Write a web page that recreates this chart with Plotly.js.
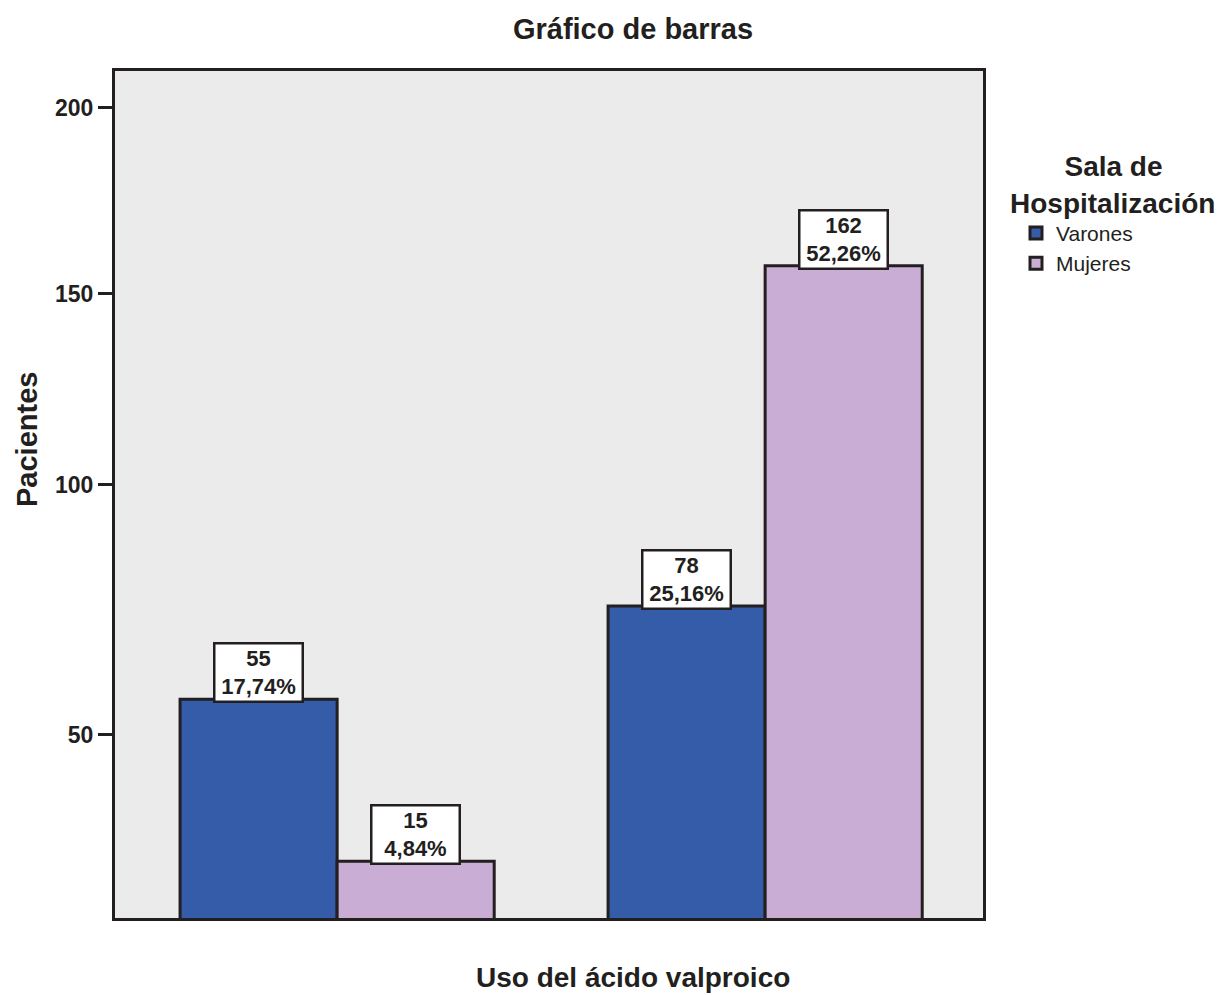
<!DOCTYPE html>
<html>
<head>
<meta charset="utf-8">
<script src="https://cdn.plot.ly/plotly-3.0.1.min.js"></script>
<style>html,body{margin:0;padding:0;background:#fff;}#chart{width:1226px;height:995px;}</style>
</head>
<body>
<div id="chart"></div>
<script>
// ---- data ----
const categories = ["Grupo 1", "Grupo 2"];
const seriesNames = ["Varones", "Mujeres"];
const varones = [55, 78];
const mujeres = [15, 162];
const varonesPct = ["17,74%", "25,16%"];
const mujeresPct = ["4,84%", "52,26%"];
const tickLabels = ["50", "100", "150", "200"];
// tick label positions as they appear on the reference axis
const tickPositions = [46.2, 107.9, 155.1, 201.1];

const W = 1226, H = 995;
const M = {l: 115, r: 243, t: 71, b: 77, autoexpand: false};
const plotW = W - M.l - M.r, plotH = H - M.t - M.b;

const bargap = 0.266;
const barOffset = (1 - bargap) / 4;

const lineCol = "#231F20";
const boldFont = "Liberation Sans, Arial, sans-serif";

const traces = [
  {type: "bar", name: seriesNames[0], x: categories, y: varones,
   marker: {color: "#345CA9", line: {color: lineCol, width: 3}}, hoverinfo: "none"},
  {type: "bar", name: seriesNames[1], x: categories, y: mujeres,
   marker: {color: "#C9ADD4", line: {color: lineCol, width: 3}}, hoverinfo: "none"}
];

const annotations = [];
function addLabel(i, val, pct, side) {
  annotations.push({
    x: i + side * barOffset, y: val, xref: "x", yref: "y",
    text: "<b>" + val + "<br>" + pct + "</b>",
    showarrow: false, yanchor: "bottom", xanchor: "center", yshift: -4,
    width: 84, height: 54, align: "center", valign: "middle",
    bgcolor: "#FFFFFF", bordercolor: lineCol, borderwidth: 2.5, borderpad: 1,
    font: {family: boldFont, size: 22, color: lineCol}
  });
}
categories.forEach((c, i) => {
  addLabel(i, varones[i], varonesPct[i], -1);
  addLabel(i, mujeres[i], mujeresPct[i], 1);
});
// axis titles
annotations.push({
  text: "<b>Uso del ácido valproico</b>", showarrow: false,
  xref: "paper", yref: "paper",
  x: (633 - M.l) / plotW, y: -(978 - (M.t + plotH)) / plotH,
  xanchor: "center", yanchor: "middle",
  font: {family: boldFont, size: 28, color: lineCol}
});
annotations.push({
  text: "<b>Pacientes</b>", showarrow: false, textangle: -90,
  xref: "paper", yref: "paper",
  x: (27 - M.l) / plotW, y: 1 - (440 - M.t) / plotH,
  xanchor: "center", yanchor: "middle",
  font: {family: boldFont, size: 29, color: lineCol}
});

const nb = "\u00A0";
const layout = {
  width: W, height: H,
  margin: M,
  paper_bgcolor: "#FFFFFF",
  plot_bgcolor: "#EBEBEB",
  barmode: "group",
  bargap: bargap,
  bargroupgap: 0,
  title: {
    text: "<b>Gráfico de barras</b>",
    xref: "container", yref: "container",
    x: 633 / W, y: 1 - 29 / H, xanchor: "center", yanchor: "middle",
    font: {family: boldFont, size: 29, color: lineCol}
  },
  xaxis: {
    range: [-0.519, 1.509],
    showticklabels: false, ticks: "",
    showgrid: false, zeroline: false,
    showline: true, linecolor: lineCol, linewidth: 3, mirror: true,
    fixedrange: true
  },
  yaxis: {
    range: [1.0, 210.1],
    tickmode: "array", tickvals: tickPositions, ticktext: tickLabels,
    ticks: "outside", ticklen: 14, tickwidth: 3, tickcolor: lineCol,
    tickfont: {family: boldFont, size: 23, color: lineCol, weight: "bold"},
    showgrid: false, zeroline: false,
    showline: true, linecolor: lineCol, linewidth: 3, mirror: true,
    fixedrange: true
  },
  showlegend: true,
  legend: {
    x: (1008 - M.l) / plotW, y: 1 - (140 - M.t) / plotH,
    xanchor: "left", yanchor: "top",
    bgcolor: "rgba(0,0,0,0)",
    title: {text: "<b>" + nb.repeat(7) + "Sala de<br>Hospitalización</b>", side: "top",
            font: {family: boldFont, size: 28, color: lineCol}},
    font: {family: boldFont, size: 21, color: lineCol},
    tracegroupgap: 0, itemwidth: 30, indentation: 8
  },
  annotations: annotations
};

Plotly.newPlot("chart", traces, layout, {displayModeBar: false, staticPlot: true});
</script>
</body>
</html>
